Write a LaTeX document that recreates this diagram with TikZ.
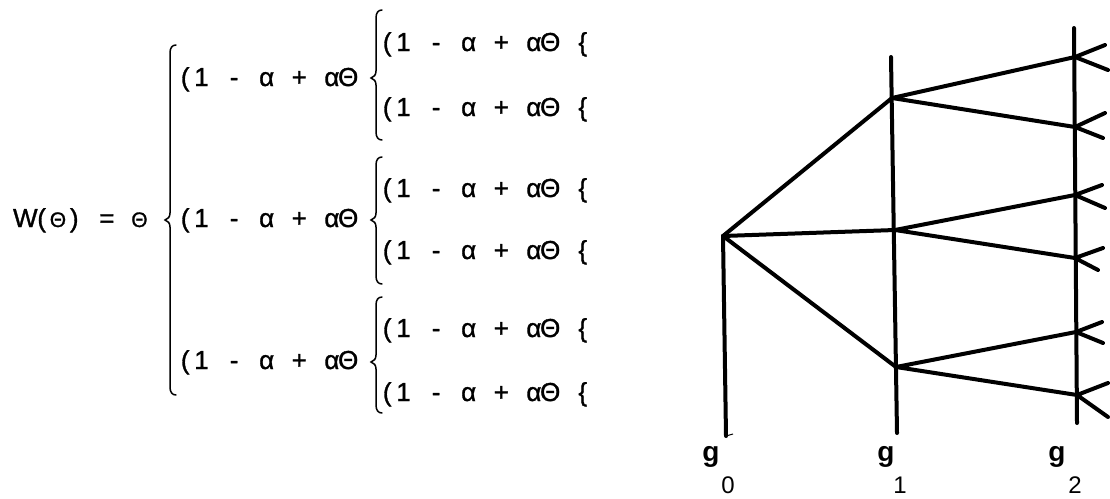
\documentclass[tikz,border=0pt]{standalone}
\usepackage{fontspec}
\setmainfont{Liberation Sans}
\newfontfamily\twfont[FakeBold=1.2]{Liberation Sans}
\makeatletter
\newcommand\tw[1]{\mytwstep#1\@nil}
\def\mytwstep#1{\ifx#1\@nil\else\makebox[16.3pt]{#1}\expandafter\mytwstep\fi}
\makeatother
\newcommand\sT{{\fontsize{21}{24}\selectfont Θ}}
\newcommand\cbr[4]{%
\draw[brc] ({#1+6},#2) .. controls ({#1+2},#2) and (#1,{#2+3}) .. (#1,{#2+8}) -- (#1,{#3-7}) .. controls (#1,{#3-3}) and ({#1-2},{#3-1}) .. ({#1-5},#3) .. controls ({#1-2},{#3+1}) and (#1,{#3+3}) .. (#1,{#3+7}) -- (#1,{#4-8}) .. controls (#1,{#4-3}) and ({#1+2},#4) .. ({#1+6},#4);}
\begin{document}
\begin{tikzpicture}[x=1pt,y=-1pt,
  txt/.style={anchor=base west, inner sep=0pt, font=\twfont\fontsize{26}{30}\selectfont},
  lbl/.style={anchor=base, inner sep=0pt, font=\fontsize{24}{28}\selectfont},
  glbl/.style={anchor=base, inner sep=0pt, font=\fontsize{28}{32}\selectfont\bfseries},
  tree/.style={line width=4pt, line cap=round, line join=round},
  brc/.style={line width=1.5pt, line cap=round}]
\useasboundingbox (0,0) rectangle (1110,498);
% left formula
\node[txt] (w) at (17,227) {\tw{W(\sT)~=~\sT}};
\cbr{170}{45}{220}{395}
\node[txt] (m1) at (176.85,86) {\tw{(1~-~α~+~αΘ}};
\node[txt] (m2) at (176.85,227) {\tw{(1~-~α~+~αΘ}};
\node[txt] (m3) at (176.85,369) {\tw{(1~-~α~+~αΘ}};
\cbr{376}{10}{78}{140}
\cbr{376}{157}{220}{284}
\cbr{376}{297}{362}{413}
\node[txt] (i1) at (378.85,51) {\tw{(1~-~α~+~αΘ~\{}};
\node[txt] (i2) at (378.85,116) {\tw{(1~-~α~+~αΘ~\{}};
\node[txt] (i3) at (378.85,197) {\tw{(1~-~α~+~αΘ~\{}};
\node[txt] (i4) at (378.85,259) {\tw{(1~-~α~+~αΘ~\{}};
\node[txt] (i5) at (378.85,337) {\tw{(1~-~α~+~αΘ~\{}};
\node[txt] (i6) at (378.85,401) {\tw{(1~-~α~+~αΘ~\{}};
% tree
\coordinate (n0) at (723,236); \coordinate (n0b) at (726,436);
\coordinate (g1t) at (891,57); \coordinate (g1b) at (897,433);
\coordinate (a1) at (892,98); \coordinate (a2) at (895,230); \coordinate (a3) at (896,367);
\coordinate (g2t) at (1074,28); \coordinate (g2b) at (1077,423);
\coordinate (b1) at (1075,57); \coordinate (b2) at (1075,127); \coordinate (b3) at (1075,195);
\coordinate (b4) at (1075,258); \coordinate (b5) at (1076,332); \coordinate (b6) at (1077,395);
\coordinate (e1u) at (1105,45); \coordinate (e1d) at (1108,70);
\coordinate (e2u) at (1105,113); \coordinate (e2d) at (1103,138);
\coordinate (e3u) at (1102,185); \coordinate (e3d) at (1105,208);
\coordinate (e4u) at (1103,248); \coordinate (e4d) at (1098,270);
\coordinate (e5u) at (1102,322); \coordinate (e5d) at (1103,343);
\coordinate (e6u) at (1108,383); \coordinate (e6d) at (1108,417);
\draw[tree] (n0) -- (n0b);
\draw[line width=1pt] (n0b) -- ++(7,-2);
\draw[tree] (g1t) -- (g1b);
\draw[tree] (g2t) -- (g2b);
\draw[tree] (a1) -- (n0) -- (a3);
\draw[tree] (n0) -- (a2);
\draw[tree] (b1) -- (a1) -- (b2);
\draw[tree] (b3) -- (a2) -- (b4);
\draw[tree] (b5) -- (a3) -- (b6);
\foreach \i in {1,...,6} {\draw[tree] (e\i u) -- (b\i) -- (e\i d);}
% labels
\node[glbl] (g0) at (711,461) {g};
\node[lbl] (s0) at (728,493) {0};
\node[glbl] (g1) at (886,461) {g};
\node[lbl] (s1) at (900,493) {1};
\node[glbl] (g2) at (1057,461) {g};
\node[lbl] (s2) at (1075,493) {2};
\end{tikzpicture}
\end{document}
